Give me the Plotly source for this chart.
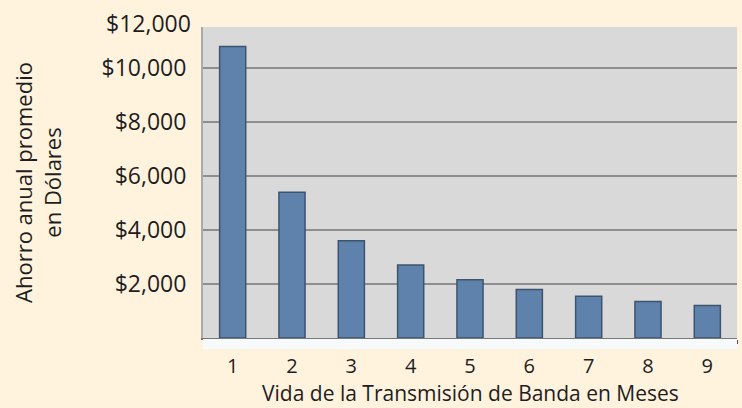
import plotly.graph_objects as go

months = ["1", "2", "3", "4", "5", "6", "7", "8", "9"]
savings = [10800, 5400, 3600, 2700, 2160, 1800, 1543, 1350, 1200]
y_ticks = [2000, 4000, 6000, 8000, 10000]
y_tick_labels = ["$2,000", "$4,000", "$6,000", "$8,000", "$10,000"]
top_label = "$12,000"
x_title = "Vida de la Transmisión de Banda en Meses"
y_title = "Ahorro anual promedio<br>en Dólares"

FONT = "Open Sans"
BG = "#FFF3DE"
TXT = "#1E1E1E"
PLOT_H = 408 - 27 - 70

fig = go.Figure()
fig.add_trace(go.Bar(
    x=months, y=savings,
    marker=dict(color="#5E82AB", line=dict(color="#3E546E", width=1.5)),
    width=0.44,
))

fig.update_layout(
    width=742, height=408,
    margin=dict(l=203, r=5, t=27, b=70),
    paper_bgcolor=BG,
    plot_bgcolor="#D9D9D9",
    showlegend=False,
    font=dict(family=FONT, size=22, color=TXT),
    xaxis=dict(
        type="category",
        tickfont=dict(size=20),
        ticks="outside", tickson="boundaries", ticklen=4, tickcolor="#555555",
        ticklabelstandoff=9,
        showline=True, linecolor="#777777", linewidth=2,
        showgrid=False,
    ),
    yaxis=dict(
        range=[0, 11520],
        tickvals=y_ticks, ticktext=y_tick_labels,
        tickfont=dict(size=23),
        ticks="", ticklabelstandoff=10,
        showgrid=True, gridcolor="#8E8E8E", gridwidth=2,
        showline=True, linecolor="#AAAAAA", linewidth=2,
        zeroline=False,
        title=dict(text=y_title, font=dict(size=22), standoff=34),
    ),
    shapes=[dict(type="rect", xref="paper", yref="paper", x0=0, x1=1,
                 y0=-11/PLOT_H, y1=-1/PLOT_H, fillcolor="#F6FAFB", line=dict(width=0), layer="above")],
    annotations=[
        dict(text=top_label, xref="paper", yref="paper", x=0, y=(338-23)/PLOT_H,
             xanchor="right", yanchor="middle", xshift=-10, showarrow=False,
             font=dict(size=23, family=FONT, color=TXT)),
        dict(text=x_title, xref="paper", yref="paper", x=0.5, y=-70/PLOT_H,
             xanchor="center", yanchor="bottom", yshift=0, showarrow=False, borderpad=0,
             font=dict(size=21, family=FONT, color=TXT)),
    ],
)

fig.write_html("out.html", config={"displayModeBar": False},
               post_script="document.body.style.margin='0';document.body.style.background='" + BG + "';")
